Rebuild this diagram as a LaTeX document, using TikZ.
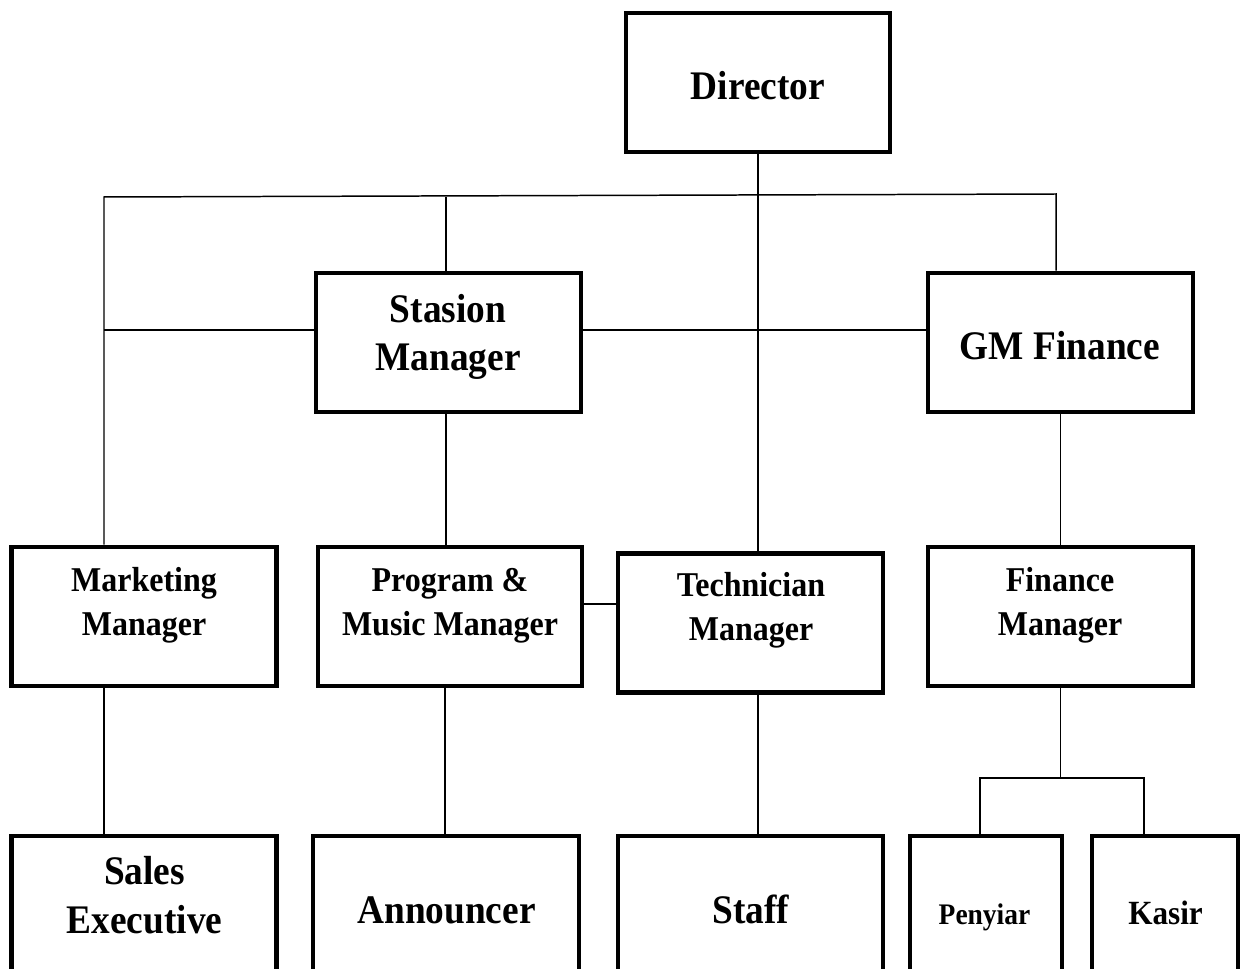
\documentclass[tikz,border=0pt]{standalone}
\usepackage{fontspec}
\setmainfont[FakeStretch=0.92]{Liberation Serif}
\usepackage{tikz}
\usetikzlibrary{positioning, calc}

\begin{document}
\begin{tikzpicture}[
  x=0.02cm, y=-0.02cm,
  box/.style={draw, line width=2.6pt, inner sep=0pt, minimum width=5.3cm, minimum height=2.78cm},
  link/.style={line width=0.85pt},
  bigtxt/.style={font=\fontsize{23.1}{27.8}\selectfont\bfseries, align=center, anchor=base},
  midtxt/.style={font=\fontsize{19.8}{24.5}\selectfont\bfseries, align=center, anchor=base}
]
\useasboundingbox (0,0) rectangle (1248,969);
\clip (0,0) rectangle (1248,969);

% Boxes
\node[box, minimum width=5.28cm] (dir) at (758,82.5) {};
\node[box] (stm) at (448.5,342.5) {};
\node[box] (gmf) at (1060.5,342.5) {};
\node[box] (mkt) at (144,616.5) {};
\node[box, minimum width=5.28cm] (prg) at (450,616.5) {};
\node[box] (tec) at (750.5,622.75) {};
\node[box] (fin) at (1060.5,616.5) {};
\node[box] (sal) at (144,905.5) {};
\node[box, minimum width=5.32cm] (ann) at (446,905.5) {};
\node[box] (stf) at (750.5,905.5) {};
\node[box, minimum width=3.04cm] (pen) at (986,905.5) {};
\node[box, minimum width=2.92cm] (kas) at (1165,905.5) {};

% Labels (base = last line)
\node[bigtxt] (dirtxt) at (758,100) {Director};
\node[bigtxt] (stmtxt) at (448,371) {Stasion\\Manager};
\node[bigtxt] (gmftxt) at (1060,360) {GM Finance};
\node[midtxt] (mkttxt) at (144,635) {Marketing\\Manager};
\node[midtxt] (prgtxt) at (450,635) {Program \&\\Music Manager};
\node[midtxt] (tectxt) at (751,640) {Technician\\Manager};
\node[midtxt] (fintxt) at (1060,635) {Finance\\Manager};
\node[bigtxt] (saltxt) at (144.5,933) {Sales\\Executive};
\node[bigtxt] (anntxt) at (446.5,923) {Announcer};
\node[bigtxt] (stftxt) at (751,923) {Staff};
\node[font=\fontsize{17}{20}\selectfont\bfseries, anchor=base] (pentxt) at (984.5,924) {Penyiar};
\node[font=\fontsize{19.3}{22}\selectfont\bfseries, anchor=base] (kastxt) at (1165.5,924) {Kasir};

% Connectors
\coordinate (busL) at (104,197);
\coordinate (busR) at (1056,194);
\coordinate (midL) at (104,330);
\coordinate (pj) at (600,604);
\coordinate (forkL) at (980,778);
\coordinate (forkR) at (1144,778);

\draw[link] (busL |- mkt.north) -- (busL) -- (busR) -- (busR |- gmf.north);
\draw[link] (dir.south) -- (dir.south |- tec.north);
\draw[link] ([xshift=-0.05cm]stm.north) -- ([xshift=-0.05cm]stm.north |- busL);
\draw[link] (midL) -- (midL -| stm.west);
\draw[link] (midL -| stm.east) -- (midL -| gmf.west);
\draw[link] ([xshift=-0.05cm]stm.south) -- ([xshift=-0.05cm]stm.south |- prg.north);
\draw[link] (gmf.south) -- (fin.north);
\draw[link] (pj -| prg.east) -- (pj -| tec.west);
\draw[link] (busL |- mkt.south) -- (busL |- sal.north);
\draw[link] ([xshift=-0.1cm]prg.south) -- ([xshift=-0.1cm]prg.south |- ann.north);
\draw[link] (dir.south |- tec.south) -- (dir.south |- stf.north);
\draw[link] (fin.south) -- (fin.south |- forkL);
\draw[link] (forkL |- pen.north) -- (forkL) -- (forkR) -- (forkR |- kas.north);

\end{tikzpicture}
\end{document}
